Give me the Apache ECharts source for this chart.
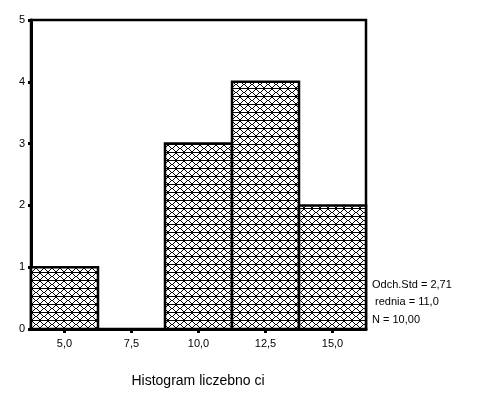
<!DOCTYPE html>
<html><head><meta charset="utf-8">
<script src="https://cdn.jsdelivr.net/npm/echarts@6/dist/echarts.min.js"></script>
<style>html,body{margin:0;padding:0;background:#fff}#c{width:491px;height:393px}</style>
</head><body><div id="c"></div>
<script>
// Data
var binCenters = [5.0, 7.5, 10.0, 12.5, 15.0];
var counts = [1, 0, 3, 4, 2];
var binWidth = 2.5;
var xTickValues = [5.0, 7.5, 10.0, 12.5, 15.0];
var yTickValues = [0, 1, 2, 3, 4, 5];
var statsLines = ['Odch.Std = 2,71', ' rednia = 11,0', 'N = 10,00'];
var titleText = 'Histogram liczebno ci';

// pattern
var pc = document.createElement('canvas');
pc.width = 8; pc.height = 8;
var g = pc.getContext('2d');
g.fillStyle = '#fff'; g.fillRect(0,0,8,8);
g.fillStyle = '#000';
g.fillRect(0,0,8,1);
for (var i = 0; i < 7; i++) {
  var y = 1 + i;
  var x1 = Math.round(i * 8 / 7);
  g.fillRect(x1, y, 1, 1);
  g.fillRect(7 - x1, y, 1, 1);
}
var pattern = {image: pc, repeat: 'repeat'};

var chart = echarts.init(document.getElementById('c'), null, {renderer: 'canvas'});
var data = binCenters.map(function (c, i) { return [c, counts[i]]; });
var font = 'Liberation Sans, Arial, sans-serif';
chart.setOption({
  animation: false,
  grid: {left: 31, right: 125, top: 20, bottom: 64, show: true, borderColor: '#000', borderWidth: 2.5, backgroundColor: '#fff'},
  xAxis: {
    type: 'value', min: 3.75, max: 16.25,
    axisLine: {show: true, lineStyle: {color: '#000', width: 3}},
    axisTick: {show: true, length: 4, lineStyle: {color: '#000', width: 3}, customValues: xTickValues},
    axisLabel: {color: '#000', fontSize: 11, fontFamily: font, margin: 9, customValues: xTickValues,
      formatter: function (v) { return v.toFixed(1).replace('.', ','); }},
    splitLine: {show: false}
  },
  yAxis: {
    type: 'value', min: 0, max: 5, interval: 1,
    axisLine: {show: true, lineStyle: {color: '#000', width: 3}},
    axisTick: {show: true, length: 3, lineStyle: {color: '#000', width: 3}},
    axisLabel: {color: '#000', fontSize: 11, fontFamily: font, margin: 6},
    splitLine: {show: false}
  },
  series: [{
    type: 'custom',
    data: data,
    renderItem: function (params, api) {
      var c = api.value(0), v = api.value(1);
      if (!v) return null;
      var p0 = api.coord([c - binWidth / 2, v]);
      var p1 = api.coord([c + binWidth / 2, 0]);
      return {
        type: 'rect',
        shape: {x: p0[0], y: p0[1], width: p1[0] - p0[0], height: p1[1] - p0[1]},
        style: {fill: pattern, stroke: '#000', lineWidth: 2.5}
      };
    }
  }],
  graphic: [
    {type: 'text', left: 372, top: 276, style: {text: statsLines.join('\n'), fontSize: 11, fontFamily: font, fill: '#000', lineHeight: 17.5}},
    {type: 'text', x: 198, y: 374, style: {text: titleText, fontSize: 14, fontFamily: font, fill: '#000', textAlign: 'center'}}
  ]
});
</script></body></html>
